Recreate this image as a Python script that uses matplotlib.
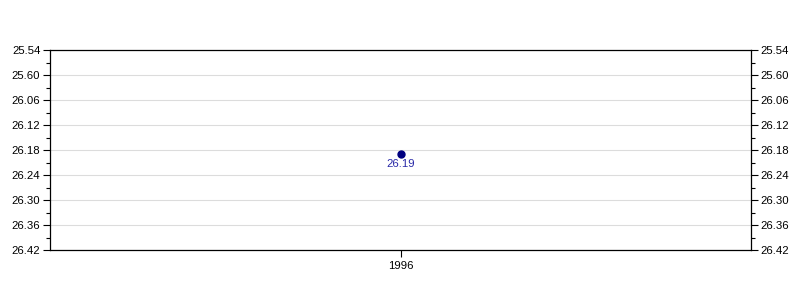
import matplotlib
matplotlib.use("Agg")
import matplotlib.pyplot as plt
from matplotlib.ticker import FixedLocator, MultipleLocator

plt.rcParams['font.family'] = ['Liberation Sans', 'DejaVu Sans']

years = [1996]
times_label = ["26.19"]
times_sec = [26 * 60 + 19]  # 26:19 in seconds

ytick_values = [1554, 1560, 1566, 1572, 1578, 1584, 1590, 1596, 1602]
ytick_labels = ["25.54", "25.60", "26.06", "26.12", "26.18", "26.24", "26.30", "26.36", "26.42"]

FS = 8.2

fig = plt.figure(figsize=(8, 3), dpi=100)
ax = fig.add_axes([50 / 800, 50 / 300, 701 / 800, 200 / 300])

ax.set_xlim(years[0] - 0.5, years[0] + 0.5)
ax.set_ylim(ytick_values[-1], ytick_values[0])

ax.yaxis.set_major_locator(FixedLocator(ytick_values))
ax.set_yticklabels(ytick_labels)
ax.yaxis.set_minor_locator(MultipleLocator(3))
ax.set_xticks(years)
ax.set_xticklabels([str(y) for y in years])

ax.grid(axis='y', which='major', color='#dcdcdc', linewidth=0.8)
ax.set_axisbelow(True)

ax.plot(years, times_sec, 'o', color='#000080', markersize=5, zorder=3)
for x, y, t in zip(years, times_sec, times_label):
    ax.annotate(t, (x, y), xytext=(0, -10), textcoords='offset pixels',
                ha='center', va='center', color='#2a2aa8', fontsize=FS)

ax.tick_params(axis='y', which='major', length=5, width=0.8, labelsize=FS, pad=2,
               left=True, right=True, labelleft=True, labelright=True, colors='black')
ax.tick_params(axis='y', which='minor', length=3, width=0.8, left=True, right=True)
ax.tick_params(axis='x', which='major', length=5, width=0.8, labelsize=FS, pad=3)
ax.tick_params(axis='y', which='major', labelright=True)

for s in ax.spines.values():
    s.set_color('black')
    s.set_linewidth(0.9)

fig.savefig('out.png', dpi=100)
